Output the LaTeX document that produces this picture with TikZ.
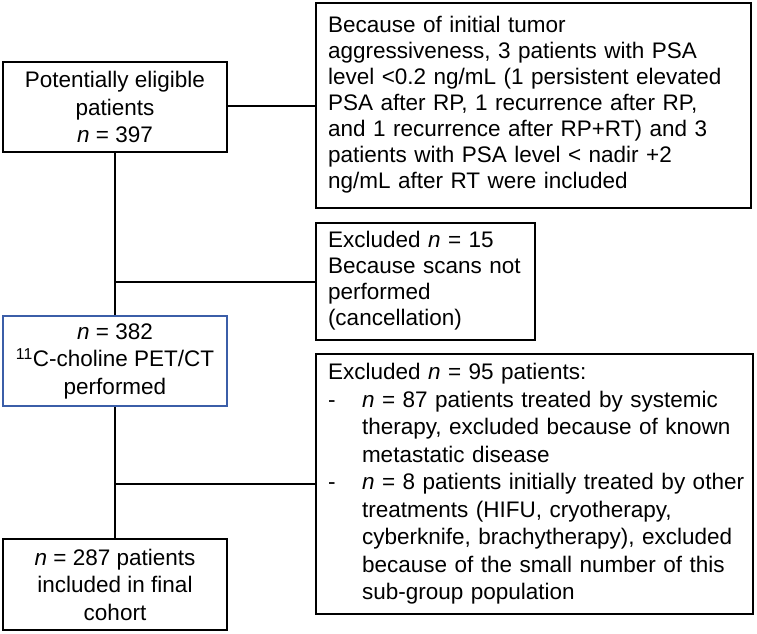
\documentclass[tikz,border=0pt]{standalone}
\usepackage{fontspec}
\setmainfont{Liberation Sans}
\usepackage{tikz}
\definecolor{framblue}{HTML}{3B5EA8}

\begin{document}
\begin{tikzpicture}[
        x=1pt,
        y=-1pt,
        flow box/.style={
            draw,line width=2pt,inner sep=0pt,align=center,
            font=\fontsize{22.5}{27.5}\selectfont
        },
        note box/.style={
            flow box,align=left,inner xsep=12pt
        },
        flow line/.style={line width=2pt}
    ]
        \useasboundingbox (0,0) rectangle (757,633);

        % The main column of the flow chart.
        \node[flow box,minimum width=224pt,minimum height=90pt]
            (eligible) at (115,107)
            {Potentially eligible\\patients\\\textit{n} = 397};
        \node[flow box,draw=framblue,minimum width=224pt,minimum height=90pt]
            (performed) at (115,361)
            {\textit{n} = 382\\\textsuperscript{11}C-choline PET/CT\\performed};
        \node[flow box,minimum width=224pt,minimum height=91pt]
            (cohort) at (115,584.5)
            {\textit{n} = 287 patients\\included in final\\cohort};

        % The side boxes; the lines are broken as in the original.
        \node[note box,font=\fontsize{22.5}{26}\selectfont,
              minimum width=435pt,minimum height=205pt,text width=411pt]
            (included) at (533.5,105.5)
            {\begin{tabular}{@{}l@{}}
             Because of initial tumor\\
             aggressiveness, 3 patients with PSA\\
             level <0.2 ng/mL (1 persistent elevated\\
             PSA after RP, 1 recurrence after RP,\\
             and 1 recurrence after RP+RT) and 3\\
             patients with PSA level < nadir +2\\
             ng/mL after RT were included
             \end{tabular}};
        \node[note box,font=\fontsize{22.5}{26}\selectfont,
              minimum width=219pt,minimum height=117pt,text width=195pt]
            (noscan) at (425.5,281.5)
            {\begin{tabular}{@{}l@{}}
             Excluded \textit{n} = 15\\
             Because scans not\\
             performed\\
             (cancellation)
             \end{tabular}};
        \node[note box,minimum width=437pt,minimum height=260pt,text width=413pt]
            (excluded) at (534.5,484)
            {\begin{tabular}{@{}l@{}l@{}}
             \multicolumn{2}{@{}l@{}}{Excluded \textit{n} = 95 patients:}\\
             \makebox[34pt][l]{-} & \textit{n} = 87 patients treated by systemic\\
             & therapy, excluded because of known\\
             & metastatic disease\\
             \makebox[34pt][l]{-} & \textit{n} = 8 patients initially treated by other\\
             & treatments (HIFU, cryotherapy,\\
             & cyberknife, brachytherapy), excluded\\
             & because of the small number of this\\
             & sub-group population
             \end{tabular}};

        % Connectors.
        \draw[flow line] (eligible.south) -- (performed.north);
        \draw[flow line] (performed.south) -- (cohort.north);
        \draw[flow line] (included.west -| eligible.east) -- (included.west);
        \draw[flow line] (eligible.south |- noscan.west) -- (noscan.west);
        \draw[flow line] (performed.south |- excluded.west) -- (excluded.west);
    \end{tikzpicture}
\end{document}
